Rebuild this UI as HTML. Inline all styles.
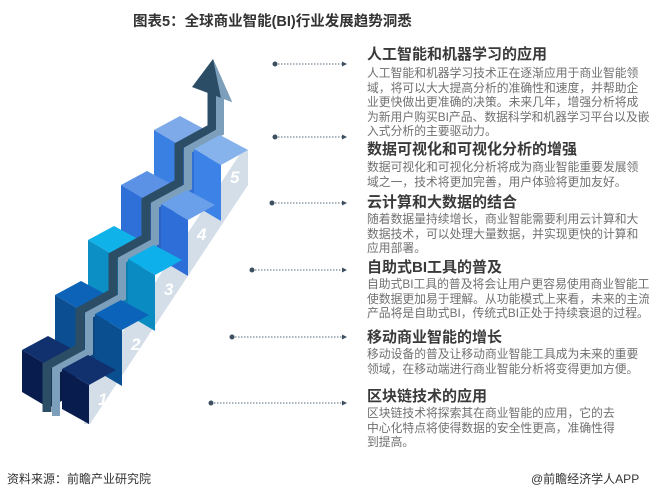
<!DOCTYPE html>
<html><head><meta charset="utf-8"><style>
body{margin:0;width:649px;height:498px;background:#fff;position:relative;overflow:hidden;font-family:"Liberation Sans","Noto Sans CJK SC",sans-serif}
.t{position:absolute;white-space:nowrap}
.h{position:absolute;left:367px;font-size:15px;font-weight:bold;color:#3a3a3a;white-space:nowrap;line-height:18px}
.b{position:absolute;left:367px;font-size:11.8px;color:#707070;white-space:nowrap;line-height:14.6px}
</style></head><body>
<div class="t" style="left:133px;top:10px;font-size:14.5px;font-weight:bold;color:#333">图表5：全球商业智能(BI)行业发展趋势洞悉</div>

<svg width="649" height="498" style="position:absolute;left:0;top:0">
<polygon points="248,150 248,185 90,424 84,424 84,390 244,148" fill="#d3dee8"/>
<g>
<polygon points="154,130 180,116 208,131 181,146" fill="#7eaaea"/><polygon points="154,130 181,146 181,202 154,186" fill="#3a7fe2"/><polygon points="181,146 208,131 208,187 181,202" fill="#2f6fd8"/>
<polygon points="121,185 147,171 175,186 148,201" fill="#5b92e6"/><polygon points="121,185 148,201 148,257 121,241" fill="#2f6fd8"/><polygon points="148,201 175,186 175,242 148,257" fill="#2a63c4"/>
<polygon points="88,240 114,226 142,241 115,256" fill="#10b2ea"/><polygon points="88,240 115,256 115,312 88,296" fill="#0b8fc4"/><polygon points="115,256 142,241 142,297 115,312" fill="#0a7fb0"/>
<polygon points="55,295 81,281 109,296 82,311" fill="#0c63b8"/><polygon points="55,295 82,311 82,367 55,351" fill="#0b4f92"/><polygon points="82,311 109,296 109,352 82,367" fill="#0a4584"/>
<polygon points="22,350 48,336 76,351 49,366" fill="#10306e"/><polygon points="22,350 49,366 49,408 22,392" fill="#081c4e"/><polygon points="49,366 76,351 76,393 49,408" fill="#071a46"/>
</g>
<polyline points="47,412 47,366 80,348 80,311 113,293 113,256 146,238 146,201 179,183 179,146 212,128 212,92" fill="none" stroke="#2c4d66" stroke-width="9"/>
<polyline points="56,416 56,370 89,352 89,315 122,297 122,260 155,242 155,205 188,187 188,150 220,132 220,95" fill="none" stroke="#7c9fbc" stroke-width="8"/>
<polygon points="213,59 192,87 232,102" fill="#2c4d66"/>
<polygon points="213,59 232,102 221,98" fill="#7c9fbc"/>
<g>
<polygon points="194,149 220,135 248,150 221,165" fill="#86b3ec"/><polygon points="194,149 221,165 221,221 194,205" fill="#3d82e6"/>
<polygon points="161,204 187,190 215,205 188,220" fill="#6aa0ea"/><polygon points="161,204 188,220 188,276 161,260" fill="#2d6ed8"/>
<polygon points="128,259 154,245 182,260 155,275" fill="#0db0ea"/><polygon points="128,259 155,275 155,331 128,315" fill="#0a8cc2"/>
<polygon points="95,314 121,300 149,315 122,330" fill="#0b64ba"/><polygon points="95,314 122,330 122,386 95,370" fill="#0a4f90"/>
<polygon points="62,369 88,355 116,370 89,385" fill="#10306e"/><polygon points="62,369 89,385 89,424 62,409" fill="#081c4e"/>
</g>
<g fill="#fff" font-family="Liberation Sans" font-weight="bold" font-size="17" font-style="italic">
<text x="98" y="405">1</text><text x="131" y="350">2</text><text x="164" y="295">3</text><text x="197" y="240">4</text><text x="230" y="183">5</text>
</g>
<g stroke="#5a6e80" stroke-width="1" stroke-dasharray="1.5,1.5" fill="#3d4f60">
<line x1="275" y1="64" x2="342" y2="64"/><circle cx="275" cy="64" r="2.5" stroke="none"/><polygon points="342,61.5 347,64 342,66.5" stroke="none"/>
<line x1="275" y1="137" x2="342" y2="137"/><circle cx="275" cy="137" r="2.5" stroke="none"/><polygon points="342,134.5 347,137 342,139.5" stroke="none"/>
<line x1="272" y1="203" x2="342" y2="203"/><circle cx="272" cy="203" r="2.5" stroke="none"/><polygon points="342,200.5 347,203 342,205.5" stroke="none"/>
<line x1="252" y1="270" x2="342" y2="270"/><circle cx="252" cy="270" r="2.5" stroke="none"/><polygon points="342,267.5 347,270 342,272.5" stroke="none"/>
<line x1="232" y1="337" x2="342" y2="337"/><circle cx="232" cy="337" r="2.5" stroke="none"/><polygon points="342,334.5 347,337 342,339.5" stroke="none"/>
<line x1="211" y1="403" x2="342" y2="403"/><circle cx="211" cy="403" r="2.5" stroke="none"/><polygon points="342,400.5 347,403 342,405.5" stroke="none"/>
</g>
</svg>

<div class="h" style="top:46px">人工智能和机器学习的应用</div>
<div class="b" style="top:66px">人工智能和机器学习技术正在逐渐应用于商业智能领<br>域，将可以大大提高分析的准确性和速度，并帮助企<br>业更快做出更准确的决策。未来几年，增强分析将成<br>为新用户购买BI产品、数据科学和机器学习平台以及嵌<br>入式分析的主要驱动力。</div>
<div class="h" style="top:141px">数据可视化和可视化分析的增强</div>
<div class="b" style="top:160px">数据可视化和可视化分析将成为商业智能重要发展领<br>域之一，技术将更加完善，用户体验将更加友好。</div>
<div class="h" style="top:194px">云计算和大数据的结合</div>
<div class="b" style="top:212px">随着数据量持续增长，商业智能需要利用云计算和大<br>数据技术，可以处理大量数据，并实现更快的计算和<br>应用部署。</div>
<div class="h" style="top:259px">自助式BI工具的普及</div>
<div class="b" style="top:277px">自助式BI工具的普及将会让用户更容易使用商业智能工具<br>使数据更加易于理解。从功能模式上来看，未来的主流BI<br>产品将是自助式BI，传统式BI正处于持续衰退的过程。</div>
<div class="h" style="top:329px">移动商业智能的增长</div>
<div class="b" style="top:347px">移动设备的普及让移动商业智能工具成为未来的重要<br>领域，在移动端进行商业智能分析将变得更加方便。</div>
<div class="h" style="top:388px">区块链技术的应用</div>
<div class="b" style="top:406px">区块链技术将探索其在商业智能的应用，它的去<br>中心化特点将使得数据的安全性更高，准确性得<br>到提高。</div>

<div class="t" style="left:7px;top:470px;font-size:12px;color:#333">资料来源：前瞻产业研究院</div>
<div class="t" style="left:531px;top:470px;font-size:12px;color:#333">@前瞻经济学人APP</div>
</body></html>
